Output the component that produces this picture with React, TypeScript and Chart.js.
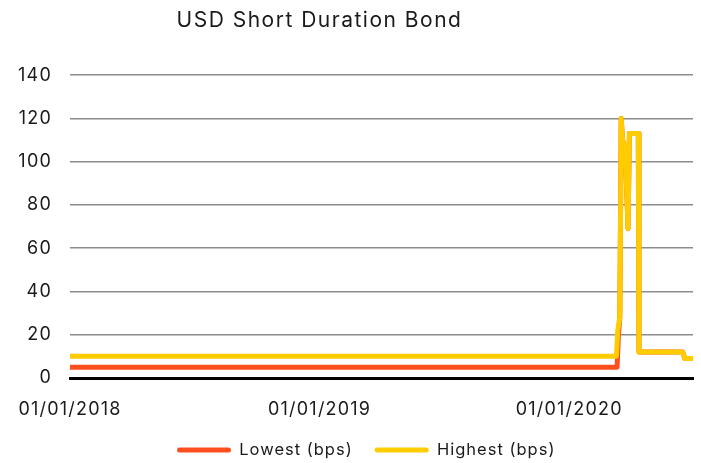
import { useEffect, useRef } from "react";
import { Chart, registerables } from "chart.js";

Chart.register(...registerables);

const titleText = "USD Short Duration Bond";
const seriesNames = ["Lowest (bps)", "Highest (bps)"];

const lowestDates = [
  "2018-01-01", "2020-03-11", "2020-03-13", "2020-03-15", "2020-03-17", "2020-03-19",
  "2020-03-23", "2020-03-27", "2020-03-29", "2020-04-11", "2020-04-12", "2020-06-15",
  "2020-06-18", "2020-06-30",
];
const lowestValues = [5, 5, 20, 28, 120, 110, 106, 69, 113, 113, 12, 12, 9, 9];

const highestDates = [
  "2018-01-01", "2020-03-10", "2020-03-12", "2020-03-15", "2020-03-17", "2020-03-19",
  "2020-03-23", "2020-03-27", "2020-03-29", "2020-04-11", "2020-04-12", "2020-06-15",
  "2020-06-18", "2020-06-30",
];
const highestValues = [10, 10, 22, 28, 120, 110, 106, 69, 113, 113, 12, 12, 9, 9];

const xTickDates = ["2018-01-01", "2019-01-01", "2020-01-01"];
const xTickLabels = ["01/01/2018", "01/01/2019", "01/01/2020"];

const yMin = 0;
const yMax = 140;
const yStep = 20;

const FONT = "Inter, 'Noto Sans', 'DejaVu Sans', sans-serif";
const TEXT = "#1a1a1a";
const LOW_COLOR = "#ff4f1f";
const HIGH_COLOR = "#ffcc00";

const DAY = 86400000;
const ORIGIN = Date.UTC(2018, 0, 1);
const toDay = (s: string) => {
  const [y, m, d] = s.split("-").map(Number);
  return (Date.UTC(y, m - 1, d) - ORIGIN) / DAY;
};

function withSpacing(obj: any, key: string, spacing: string) {
  if (!obj || obj["__ls_" + key]) return;
  const orig = obj[key];
  obj[key] = function (...args: any[]) {
    const ctx = this.ctx;
    const prev = ctx.letterSpacing;
    ctx.letterSpacing = spacing;
    try {
      return orig.apply(this, args);
    } finally {
      ctx.letterSpacing = prev;
    }
  };
  obj["__ls_" + key] = true;
}

const placement = {
  id: "placement",
  afterLayout(chart: any) {
    const t = chart.titleBlock;
    if (t) {
      t.left = 0;
      t.right = 639;
      t.width = 639;
      withSpacing(t, "draw", "1.5px");
    }
    const lg = chart.legend;
    if (lg) {
      const pad = lg.options.labels.padding;
      lg.left = 177 - pad;
      lg.right = 701;
      lg.width = lg.right - lg.left;
      const fs = lg.options.labels.font.size;
      lg.top = 450 - pad - fs / 2;
      lg.bottom = chart.height;
      lg.height = lg.bottom - lg.top;
      withSpacing(lg, "draw", "1px");
    }
    withSpacing(chart.scales.x, "drawLabels", "1.2px");
    withSpacing(chart.scales.y, "drawLabels", "1.2px");
  },
};

export default function App() {
  const ref = useRef<HTMLCanvasElement | null>(null);

  useEffect(() => {
    if (!ref.current) return;
    const xMin = toDay(highestDates[0]);
    const xMax = toDay(highestDates[highestDates.length - 1]);
    const chart = new Chart(ref.current, {
      type: "line",
      data: {
        datasets: [
          {
            label: seriesNames[0],
            data: lowestDates.map((d, i) => ({ x: toDay(d), y: lowestValues[i] })),
            borderColor: LOW_COLOR,
            backgroundColor: LOW_COLOR,
            borderWidth: 5,
            pointRadius: 0,
            borderCapStyle: "round",
            borderJoinStyle: "round",
            tension: 0,
            order: 1,
          },
          {
            label: seriesNames[1],
            data: highestDates.map((d, i) => ({ x: toDay(d), y: highestValues[i] })),
            borderColor: HIGH_COLOR,
            backgroundColor: HIGH_COLOR,
            borderWidth: 5,
            pointRadius: 0,
            borderCapStyle: "round",
            borderJoinStyle: "round",
            tension: 0,
            order: 0,
          },
        ],
      },
      options: {
        responsive: false,
        animation: false,
        events: [],
        layout: { padding: { left: 0, right: 8, top: 0, bottom: 0 } },
        scales: {
          x: {
            type: "linear",
            min: xMin,
            max: xMax,
            grid: { display: false },
            border: { display: true, color: "#000000", width: 3 },
            afterBuildTicks: (scale: any) => {
              scale.ticks = xTickDates.map((d) => ({ value: toDay(d) }));
            },
            afterFit: (scale: any) => {
              scale.height = 45;
            },
            ticks: {
              autoSkip: false,
              maxRotation: 0,
              padding: 13,
              color: TEXT,
              font: { family: FONT, size: 18 },
              callback: (v: any) => {
                const i = xTickDates.findIndex((d) => toDay(d) === v);
                return i >= 0 ? xTickLabels[i] : "";
              },
            },
          },
          y: {
            min: yMin,
            max: yMax,
            afterFit: (scale: any) => {
              scale.width = 70;
            },
            grid: { color: "#8c8c8c", lineWidth: 1.5, drawTicks: false },
            border: { display: false },
            ticks: {
              stepSize: yStep,
              padding: 18,
              color: TEXT,
              font: { family: FONT, size: 18 },
            },
          },
        },
        plugins: {
          title: {
            display: true,
            text: titleText,
            color: TEXT,
            font: { family: FONT, size: 21, weight: "normal" },
            padding: { top: 8, bottom: 42 },
          },
          legend: {
            position: "bottom",
            align: "start",
            maxHeight: 40,
            labels: {
              boxWidth: 54,
              boxHeight: 5,
              useBorderRadius: true,
              borderRadius: 2.5,
              padding: 22,
              color: TEXT,
              font: { family: FONT, size: 16.5 },
              sort: (a: any, b: any) => a.datasetIndex - b.datasetIndex,
              generateLabels: (c: any) =>
                (Chart.defaults.plugins.legend.labels.generateLabels as any)(c).map((l: any) => ({
                  ...l,
                  lineWidth: 0,
                })),
            },
          },
          tooltip: { enabled: false },
        },
      },
      plugins: [placement],
    } as any);
    return () => chart.destroy();
  }, []);

  return (
    <div style={{ position: "absolute", left: 0, top: 0, width: 701, height: 463, background: "#fff" }}>
      <canvas ref={ref} width={701} height={463} style={{ display: "block" }} />
    </div>
  );
}
